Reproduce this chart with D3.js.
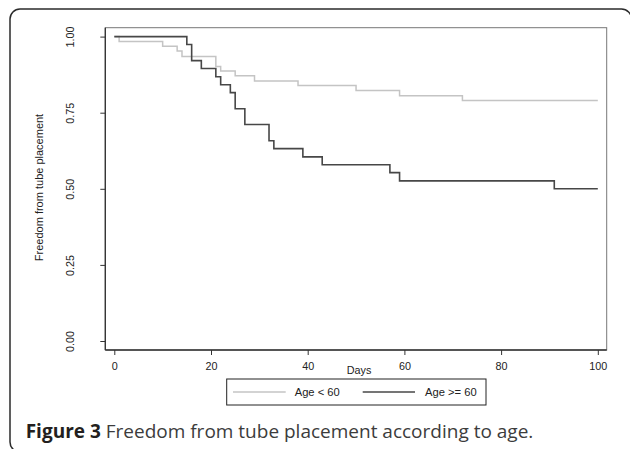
<!DOCTYPE html>
<html>
<head>
<meta charset="utf-8">
<script src="https://cdn.jsdelivr.net/npm/d3@7"></script>
<style>
  html, body { margin: 0; padding: 0; background: #fff; overflow: hidden; }
  svg { display: block; overflow: hidden; }
</style>
</head>
<body>
<svg id="chart" width="630" height="449"></svg>
<script>
// ===== Data =====
const groupNames = ['Age < 60', 'Age >= 60'];
const youngDays = [0, 1, 10, 13, 14, 21, 22, 25, 29, 38, 50, 59, 72, 100];
const youngSurv = [1.00, 0.984, 0.968, 0.953, 0.935, 0.902, 0.887, 0.871, 0.854, 0.839, 0.823, 0.806, 0.790, 0.790];
const oldDays = [0, 15, 16, 18, 21, 22, 24, 25, 27, 32, 33, 39, 43, 57, 59, 91, 100];
const oldSurv = [1.00, 0.974, 0.921, 0.895, 0.868, 0.842, 0.816, 0.763, 0.711, 0.658, 0.632, 0.605, 0.579, 0.553, 0.526, 0.500, 0.500];
const xTicks = [0, 20, 40, 60, 80, 100];
const yTicks = [0, 0.25, 0.5, 0.75, 1];

const svg = d3.select('#chart');
const font = '"Liberation Sans", Arial, sans-serif';

// Outer rounded frame: only the top and left edges fall inside the picture
svg.append('path')
    .attr('d', 'M631.5,24V19A10,10 0 0 0 621.5,9H20A10,10 0 0 0 10,19V442A10,10 0 0 0 20,452H60')
    .style('fill', 'none')
    .style('stroke', '#2b2b2b')
    .style('stroke-width', '1.5px');

// Plot region box
const box = { left: 105.3, top: 27.7, right: 606.7, bottom: 350 };
svg.append('rect')
    .attr('x', box.left).attr('y', box.top)
    .attr('width', box.right - box.left).attr('height', box.bottom - box.top)
    .style('fill', 'none')
    .style('stroke', '#777')
    .style('stroke-width', '1px');

const x = d3.scaleLinear().domain([0, 100]).range([114.3, 597.8]);
const y = d3.scaleLinear().domain([0, 1]).range([341, 36.6]);

// Axes (left + bottom drawn darker over the box)
const yAxis = svg.append('g')
    .attr('transform', `translate(${box.left},0)`)
    .call(d3.axisLeft(y).tickValues(yTicks).tickFormat(d3.format('.2f')).tickSize(5).tickSizeOuter(0));
yAxis.select('.domain').attr('d', `M0,${box.top}V${box.bottom}`);

const xAxis = svg.append('g')
    .attr('transform', `translate(0,${box.bottom})`)
    .call(d3.axisBottom(x).tickValues(xTicks).tickSize(5).tickSizeOuter(0));
xAxis.select('.domain').attr('d', `M${box.left},0H${box.right}`);

[yAxis, xAxis].forEach(ax => {
    ax.selectAll('.domain').style('stroke', '#333').style('stroke-width', '1.3px');
    ax.selectAll('.tick line').style('stroke', '#333');
    ax.selectAll('text')
        .style('font-family', font)
        .style('font-size', '10.8px')
        .style('fill', '#222');
});

// Rotated y tick labels
yAxis.selectAll('.tick text')
    .attr('x', null).attr('dy', null)
    .attr('text-anchor', 'middle')
    .attr('transform', 'translate(-31,0) rotate(-90)');

xAxis.selectAll('.tick text').attr('y', 20).attr('dy', null);

// Axis titles
svg.append('text')
    .attr('transform', 'translate(43,187.5) rotate(-90)')
    .attr('text-anchor', 'middle')
    .style('font-family', font).style('font-size', '11px').style('fill', '#222')
    .text('Freedom from tube placement');

svg.append('text')
    .attr('x', 359).attr('y', 374)
    .attr('text-anchor', 'middle')
    .style('font-family', font).style('font-size', '10.8px').style('fill', '#222')
    .text('Days');

// Kaplan-Meier step curves
const stepLine = d3.line()
    .x(d => x(d[0]))
    .y(d => y(d[1]))
    .curve(d3.curveStepAfter);

const series = [
    { name: groupNames[0], pts: d3.zip(youngDays, youngSurv), color: '#c4c4c4', width: 1.5 },
    { name: groupNames[1], pts: d3.zip(oldDays, oldSurv), color: '#474747', width: 1.6 }
];

series.forEach(s => {
    svg.append('path')
        .attr('d', stepLine(s.pts))
        .style('fill', 'none')
        .style('stroke', s.color)
        .style('stroke-width', s.width + 'px');
});

// Legend
svg.append('rect')
    .attr('x', 226.7).attr('y', 379)
    .attr('width', 259.3).attr('height', 26)
    .style('fill', '#fff')
    .style('stroke', '#222')
    .style('stroke-width', '1px');

const legendPos = [
    { lx1: 233, lx2: 285.7, tx: 294.7 },
    { lx1: 362.7, lx2: 415, tx: 425 }
];
series.forEach((s, i) => {
    const p = legendPos[i];
    svg.append('line')
        .attr('x1', p.lx1).attr('x2', p.lx2)
        .attr('y1', 392).attr('y2', 392)
        .style('stroke', s.color)
        .style('stroke-width', '1.3px');
    svg.append('text')
        .attr('x', p.tx).attr('y', 396)
        .style('font-family', font).style('font-size', '11.2px').style('fill', '#222')
        .text(s.name);
});

// Caption
const caption = svg.append('text')
    .attr('x', 25.7).attr('y', 437.5)
    .style('font-family', '"Open Sans", sans-serif')
    .style('font-size', '19px');
caption.append('tspan')
    .style('font-weight', 'bold').style('fill', '#231f20')
    .text('Figure 3');
caption.append('tspan')
    .style('fill', '#3c3c3c')
    .text(' Freedom from tube placement according to age.');
</script>
</body>
</html>
